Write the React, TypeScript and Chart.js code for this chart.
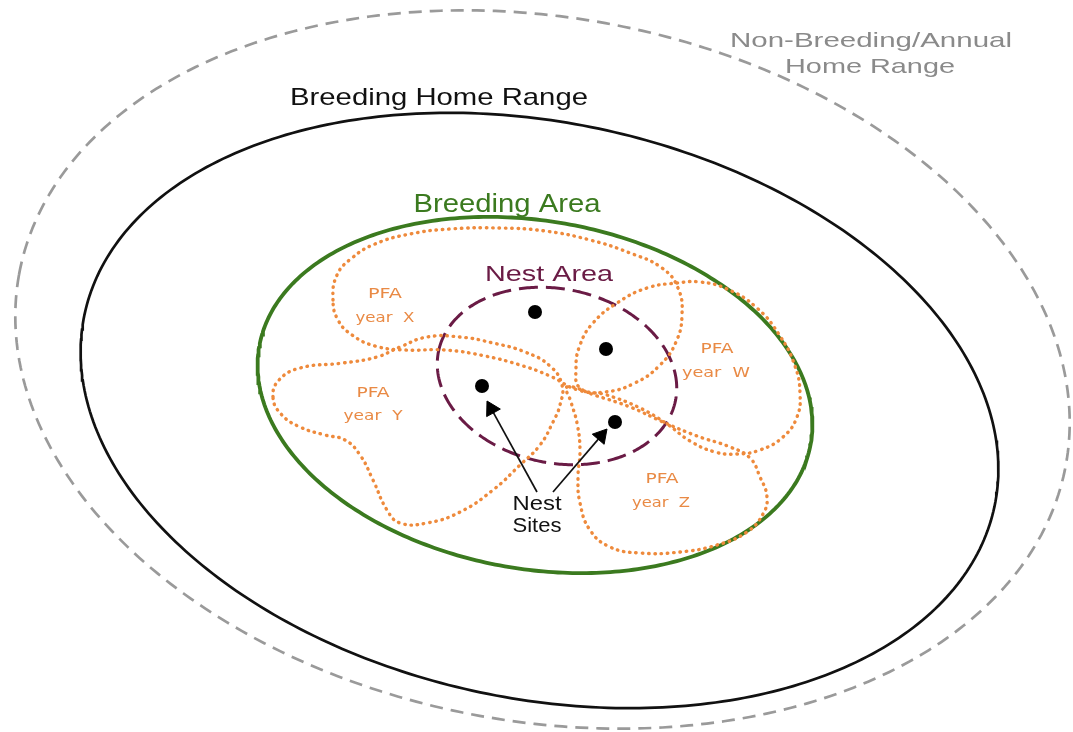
import React, { useEffect, useRef } from "react";
import { Chart, registerables } from "chart.js";

Chart.register(...registerables);

// ---- Ellipse outlines: annual range, breeding home range, breeding area, nest area
const RING_NAMES = ["Non-Breeding/Annual Home Range", "Breeding Home Range", "Breeding Area", "Nest Area"];
const RING_CX = [542.5, 539.5, 535, 557];
const RING_CY = [369.5, 410.5, 395, 376];
const RING_RX = [532, 465, 280, 121];
const RING_RY = [352, 288, 174, 87];
const RING_TILT = [10.3, 11.9, 10, 12];

// ---- PFA (post-fledging area) outlines, traced points
const PFA_X_X = [333, 337, 352, 375, 410, 450, 500, 545, 590, 630, 662, 678, 682, 676, 660, 635, 605, 578, 550, 520, 485, 445, 405, 375, 352, 338];
const PFA_X_Y = [300, 275, 258, 244, 234, 229, 228, 231, 240, 253, 268, 288, 315, 342, 365, 383, 392, 390, 376, 365, 356, 350, 350, 346, 335, 320];

const PFA_Y_X = [273, 279, 300, 343, 377, 400, 427, 460, 493, 525, 550, 562, 560, 553, 540, 520, 493, 460, 427, 400, 387, 373, 360, 345, 325, 300, 281];
const PFA_Y_Y = [397, 380, 368, 363, 357, 347, 337, 337, 343, 352, 366, 385, 405, 422, 445, 465, 490, 512, 523, 523, 510, 480, 455, 440, 435, 427, 414];

const PFA_W_X = [677, 700, 727, 757, 780, 795, 800, 797, 783, 760, 737, 715, 690, 667, 640, 607, 580, 576, 580, 593, 617, 647];
const PFA_W_Y = [283, 282, 289, 308, 336, 366, 393, 417, 437, 450, 454, 452, 441, 424, 408, 395, 388, 368, 345, 323, 303, 288];

const PFA_Z_X = [567, 597, 630, 663, 697, 730, 750, 760, 767, 763, 747, 717, 680, 640, 610, 590, 580, 578, 580, 577, 571];
const PFA_Z_Y = [387, 396, 407, 422, 436, 447, 458, 477, 497, 514, 532, 545, 552, 553, 547, 530, 503, 477, 450, 423, 402];

// ---- Nest sites and arrows
const NEST_X = [535, 606, 482, 615];
const NEST_Y = [312, 349, 386, 422];
const ARROW_TAIL_X = [537, 553];
const ARROW_TAIL_Y = [492, 492];
const ARROW_TIP_X = [487, 607];
const ARROW_TIP_Y = [401, 429];

// ---- Text labels
const LABEL_TEXT = [
  "Non-Breeding/Annual",
  "Home Range",
  "Breeding Home Range",
  "Breeding Area",
  "Nest Area",
  "Nest",
  "Sites",
  "PFA",
  "year  X",
  "PFA",
  "year  Y",
  "PFA",
  "year  W",
  "PFA",
  "year  Z",
];

const SANS = '"Liberation Sans", Arial, sans-serif';
const VERD = '"DejaVu Sans", Verdana, sans-serif';
const GRAY = "#8a8a8a";
const BLACK = "#111111";
const GREEN = "#3b7a1f";
const MAROON = "#6a1b45";
const ORANGE = "#ee8a3c";
const ORANGE_TXT = "#e98a45";

const LABEL_LAYOUT = [
  { x: 871, y: 47, size: 21, width: 282, color: GRAY, family: SANS },
  { x: 870, y: 73, size: 21, width: 170, color: GRAY, family: SANS },
  { x: 439, y: 105, size: 24, width: 298, color: BLACK, family: SANS },
  { x: 507, y: 212, size: 25, width: 187, color: GREEN, family: SANS },
  { x: 549, y: 281, size: 22, width: 128, color: MAROON, family: SANS },
  { x: 537, y: 510, size: 20, width: 49, color: BLACK, family: SANS },
  { x: 537, y: 532, size: 20, width: 49, color: BLACK, family: SANS },
  { x: 385, y: 298, size: 14, width: 34, color: ORANGE_TXT, family: VERD },
  { x: 385, y: 322, size: 14, width: 59, color: ORANGE_TXT, family: VERD },
  { x: 373, y: 397, size: 14, width: 33, color: ORANGE_TXT, family: VERD },
  { x: 373, y: 420, size: 14, width: 59, color: ORANGE_TXT, family: VERD },
  { x: 717, y: 353, size: 14, width: 33, color: ORANGE_TXT, family: VERD },
  { x: 716, y: 377, size: 14, width: 68, color: ORANGE_TXT, family: VERD },
  { x: 662, y: 483, size: 14, width: 33, color: ORANGE_TXT, family: VERD },
  { x: 661, y: 507, size: 14, width: 58, color: ORANGE_TXT, family: VERD },
];

const W = 1073;
const H = 732;

function ringPoints(i: number) {
  const pts: { x: number; y: number }[] = [];
  const th = (RING_TILT[i] * Math.PI) / 180;
  const c = Math.cos(th);
  const s = Math.sin(th);
  const steps = 360;
  for (let k = 0; k <= steps; k++) {
    const t = (k / steps) * Math.PI * 2 + Math.PI;
    const ex = RING_RX[i] * Math.cos(t);
    const ey = RING_RY[i] * Math.sin(t);
    pts.push({ x: RING_CX[i] + ex * c - ey * s, y: RING_CY[i] + ex * s + ey * c });
  }
  return pts;
}

function loopDataset(label: string, xs: number[], ys: number[]) {
  const pts = xs.map((x, i) => ({ x, y: ys[i] }));
  const n = pts.length;
  const data = [pts[n - 1], ...pts, pts[0], pts[1]];
  return {
    label,
    data,
    showLine: true,
    tension: 0.45,
    borderColor: ORANGE,
    borderWidth: 3.4,
    borderDash: [0.5, 5.8],
    borderCapStyle: "round" as const,
    pointRadius: 0,
    clip: false as const,
    segment: {
      borderColor: (ctx: any) =>
        ctx.p0DataIndex === 0 || ctx.p0DataIndex === n + 1 ? "rgba(0,0,0,0)" : undefined,
    },
  };
}

const labelPlugin = {
  id: "diagramLabels",
  afterDatasetsDraw(chart: any) {
    const { ctx } = chart;
    const xs = chart.scales.x;
    const ys = chart.scales.y;
    LABEL_TEXT.forEach((t, i) => {
      const L = LABEL_LAYOUT[i];
      ctx.save();
      ctx.font = `${L.size}px ${L.family}`;
      const w = ctx.measureText(t).width || 1;
      ctx.translate(xs.getPixelForValue(L.x), ys.getPixelForValue(L.y));
      ctx.scale(L.width / w, 1);
      ctx.fillStyle = L.color;
      ctx.textAlign = "center";
      ctx.textBaseline = "alphabetic";
      ctx.fillText(t, 0, 0);
      ctx.restore();
    });
  },
};

export default function App() {
  const ref = useRef<HTMLCanvasElement | null>(null);

  useEffect(() => {
    if (!ref.current) return;

    const headR = 9;
    const heads = ARROW_TIP_X.map((tx, i) => {
      const dx = tx - ARROW_TAIL_X[i];
      const dy = ARROW_TIP_Y[i] - ARROW_TAIL_Y[i];
      const len = Math.hypot(dx, dy);
      return {
        x: tx - (dx / len) * headR,
        y: ARROW_TIP_Y[i] - (dy / len) * headR,
        rot: (Math.atan2(dx, -dy) * 180) / Math.PI,
      };
    });

    const datasets: any[] = [];

    datasets.push({
      label: "Nest Sites",
      data: NEST_X.map((x, i) => ({ x, y: NEST_Y[i] })),
      showLine: false,
      pointStyle: "circle",
      pointRadius: 7,
      pointBackgroundColor: "#000",
      pointBorderWidth: 0,
      clip: false,
    });

    datasets.push({
      label: "arrow heads",
      data: heads.map((h) => ({ x: h.x, y: h.y })),
      showLine: false,
      pointStyle: "triangle",
      pointRadius: headR,
      pointRotation: heads.map((h) => h.rot),
      pointBackgroundColor: "#000",
      pointBorderColor: "#000",
      pointBorderWidth: 1,
      clip: false,
    });

    ARROW_TAIL_X.forEach((ax, i) => {
      datasets.push({
        label: "arrow " + i,
        data: [
          { x: ax, y: ARROW_TAIL_Y[i] },
          { x: heads[i].x, y: heads[i].y },
        ],
        showLine: true,
        borderColor: "#111",
        borderWidth: 1.7,
        pointRadius: 0,
        clip: false,
      });
    });

    datasets.push(loopDataset("PFA year X", PFA_X_X, PFA_X_Y));
    datasets.push(loopDataset("PFA year Y", PFA_Y_X, PFA_Y_Y));
    datasets.push(loopDataset("PFA year W", PFA_W_X, PFA_W_Y));
    datasets.push(loopDataset("PFA year Z", PFA_Z_X, PFA_Z_Y));

    const ringStyles = [
      { color: "#9a9a9a", width: 2.7, dash: [13, 8] },
      { color: "#111111", width: 2.7, dash: [] },
      { color: GREEN, width: 3.8, dash: [] },
      { color: MAROON, width: 3, dash: [19, 8] },
    ];
    RING_NAMES.forEach((name, i) => {
      datasets.push({
        label: name,
        data: ringPoints(i),
        showLine: true,
        tension: 0,
        borderColor: ringStyles[i].color,
        borderWidth: ringStyles[i].width,
        borderDash: ringStyles[i].dash,
        pointRadius: 0,
        clip: false,
      });
    });

    const chart = new Chart(ref.current, {
      type: "scatter",
      data: { datasets },
      options: {
        animation: false,
        responsive: true,
        maintainAspectRatio: false,
        devicePixelRatio: 1,
        layout: { padding: 0, autoPadding: false },
        events: [],
        plugins: {
          legend: { display: false },
          tooltip: { enabled: false },
          title: { display: false },
        },
        scales: {
          x: { type: "linear", min: 0, max: W, display: false },
          y: { type: "linear", min: 0, max: H, reverse: true, display: false },
        },
      },
      plugins: [labelPlugin],
    });

    return () => chart.destroy();
  }, []);

  return (
    <div style={{ position: "absolute", left: 0, top: 0, width: W, height: H, background: "#ffffff" }}>
      <canvas ref={ref} />
    </div>
  );
}
